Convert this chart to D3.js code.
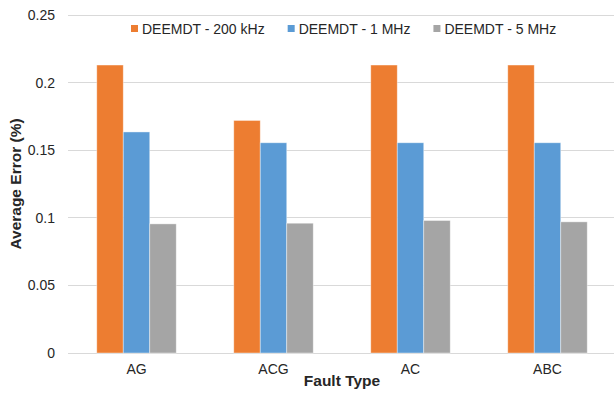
<!DOCTYPE html>
<html>
<head>
<meta charset="utf-8">
<script src="https://cdn.jsdelivr.net/npm/d3@7/dist/d3.min.js"></script>
<style>
  html, body { margin: 0; padding: 0; background: #fff; }
  svg { display: block; font-family: "Liberation Sans", Arial, sans-serif; }
</style>
</head>
<body>
<svg id="chart" width="614" height="394"></svg>
<script>
// Fault types on the x axis
const categories = ["AG", "ACG", "AC", "ABC"];
// Series names
const seriesNames = ["DEEMDT - 200 kHz", "DEEMDT - 1 MHz", "DEEMDT - 5 MHz"];
// Average error (%) per fault type for each sampling rate
const values200k = [0.213, 0.172, 0.213, 0.213];
const values1M   = [0.1635, 0.1555, 0.1555, 0.1555];
const values5M   = [0.0955, 0.096, 0.098, 0.097];
// Y axis ticks
const yTicks = [0, 0.05, 0.1, 0.15, 0.2, 0.25];
const yTickLabels = ["0", "0.05", "0.1", "0.15", "0.2", "0.25"];

const seriesValues = [values200k, values1M, values5M];
const colors = ["#ED7D31", "#5B9BD5", "#A5A5A5"];

const svg = d3.select("#chart");
const margin = { left: 68, right: -2, top: 15, bottom: 41 };
const W = 614, H = 394;
const plotLeft = margin.left, plotRight = W - margin.right;
const plotTop = margin.top, plotBottom = H - margin.bottom;

const y = d3.scaleLinear().domain([0, 0.25]).range([plotBottom, plotTop]);
const x0 = d3.scaleBand().domain(categories).range([plotLeft, plotRight])
  .paddingInner(0.42).paddingOuter(0.21);
const x1 = d3.scaleBand().domain(d3.range(seriesNames.length)).range([0, x0.bandwidth()]);

// Horizontal gridlines
svg.append("g").selectAll("line").data(yTicks).join("line")
  .attr("x1", plotLeft).attr("x2", plotRight)
  .attr("y1", d => y(d)).attr("y2", d => y(d))
  .attr("stroke", "#D9D9D9").attr("stroke-width", 1)
  .attr("shape-rendering", "crispEdges");

// Y axis tick labels
const yAxis = d3.axisLeft(y).tickValues(yTicks)
  .tickFormat((d, i) => yTickLabels[i]).tickSize(0).tickPadding(13);
const gy = svg.append("g").attr("transform", `translate(${plotLeft},0)`).call(yAxis);
gy.select(".domain").remove();
gy.selectAll("text").attr("font-size", 14).attr("fill", "#262626")
  .attr("font-family", "Liberation Sans, Arial, sans-serif");

// Bars
const groups = svg.append("g").selectAll("g").data(categories).join("g")
  .attr("transform", d => `translate(${x0(d)},0)`);
groups.selectAll("rect")
  .data((c, ci) => seriesValues.map((vals, si) => ({ si, v: vals[ci] })))
  .join("rect")
  .attr("x", d => x1(d.si))
  .attr("width", x1.bandwidth())
  .attr("y", d => y(d.v))
  .attr("height", d => y(0) - y(d.v))
  .attr("fill", d => colors[d.si])
  .attr("stroke", "#ffffff").attr("stroke-opacity", 0.5).attr("stroke-width", 0.8);

// X axis category labels
const xAxis = d3.axisBottom(x0).tickSize(0).tickPadding(11);
const gx = svg.append("g").attr("transform", `translate(0,${plotBottom})`).call(xAxis);
gx.select(".domain").remove();
gx.selectAll("text").attr("font-size", 14).attr("fill", "#262626")
  .attr("font-family", "Liberation Sans, Arial, sans-serif");

// Axis titles
svg.append("text")
  .attr("x", (plotLeft + plotRight) / 2).attr("y", 386)
  .attr("text-anchor", "middle").attr("font-size", 15.5).attr("font-weight", "bold")
  .attr("fill", "#262626").text("Fault Type");
svg.append("text")
  .attr("transform", `translate(21,${(plotTop + plotBottom) / 2}) rotate(-90)`)
  .attr("text-anchor", "middle").attr("font-size", 15.5).attr("font-weight", "bold")
  .attr("fill", "#262626").text("Average Error (%)");

// Legend
const legend = svg.append("g");
let lx = 131;
seriesNames.forEach((name, i) => {
  legend.append("rect").attr("x", lx).attr("y", 25).attr("width", 7).attr("height", 7)
    .attr("fill", colors[i]);
  const t = legend.append("text").attr("x", lx + 11).attr("y", 33.5)
    .attr("font-size", 14).attr("fill", "#262626").text(name);
  lx += 11 + t.node().getComputedTextLength() + 23;
});
</script>
</body>
</html>
